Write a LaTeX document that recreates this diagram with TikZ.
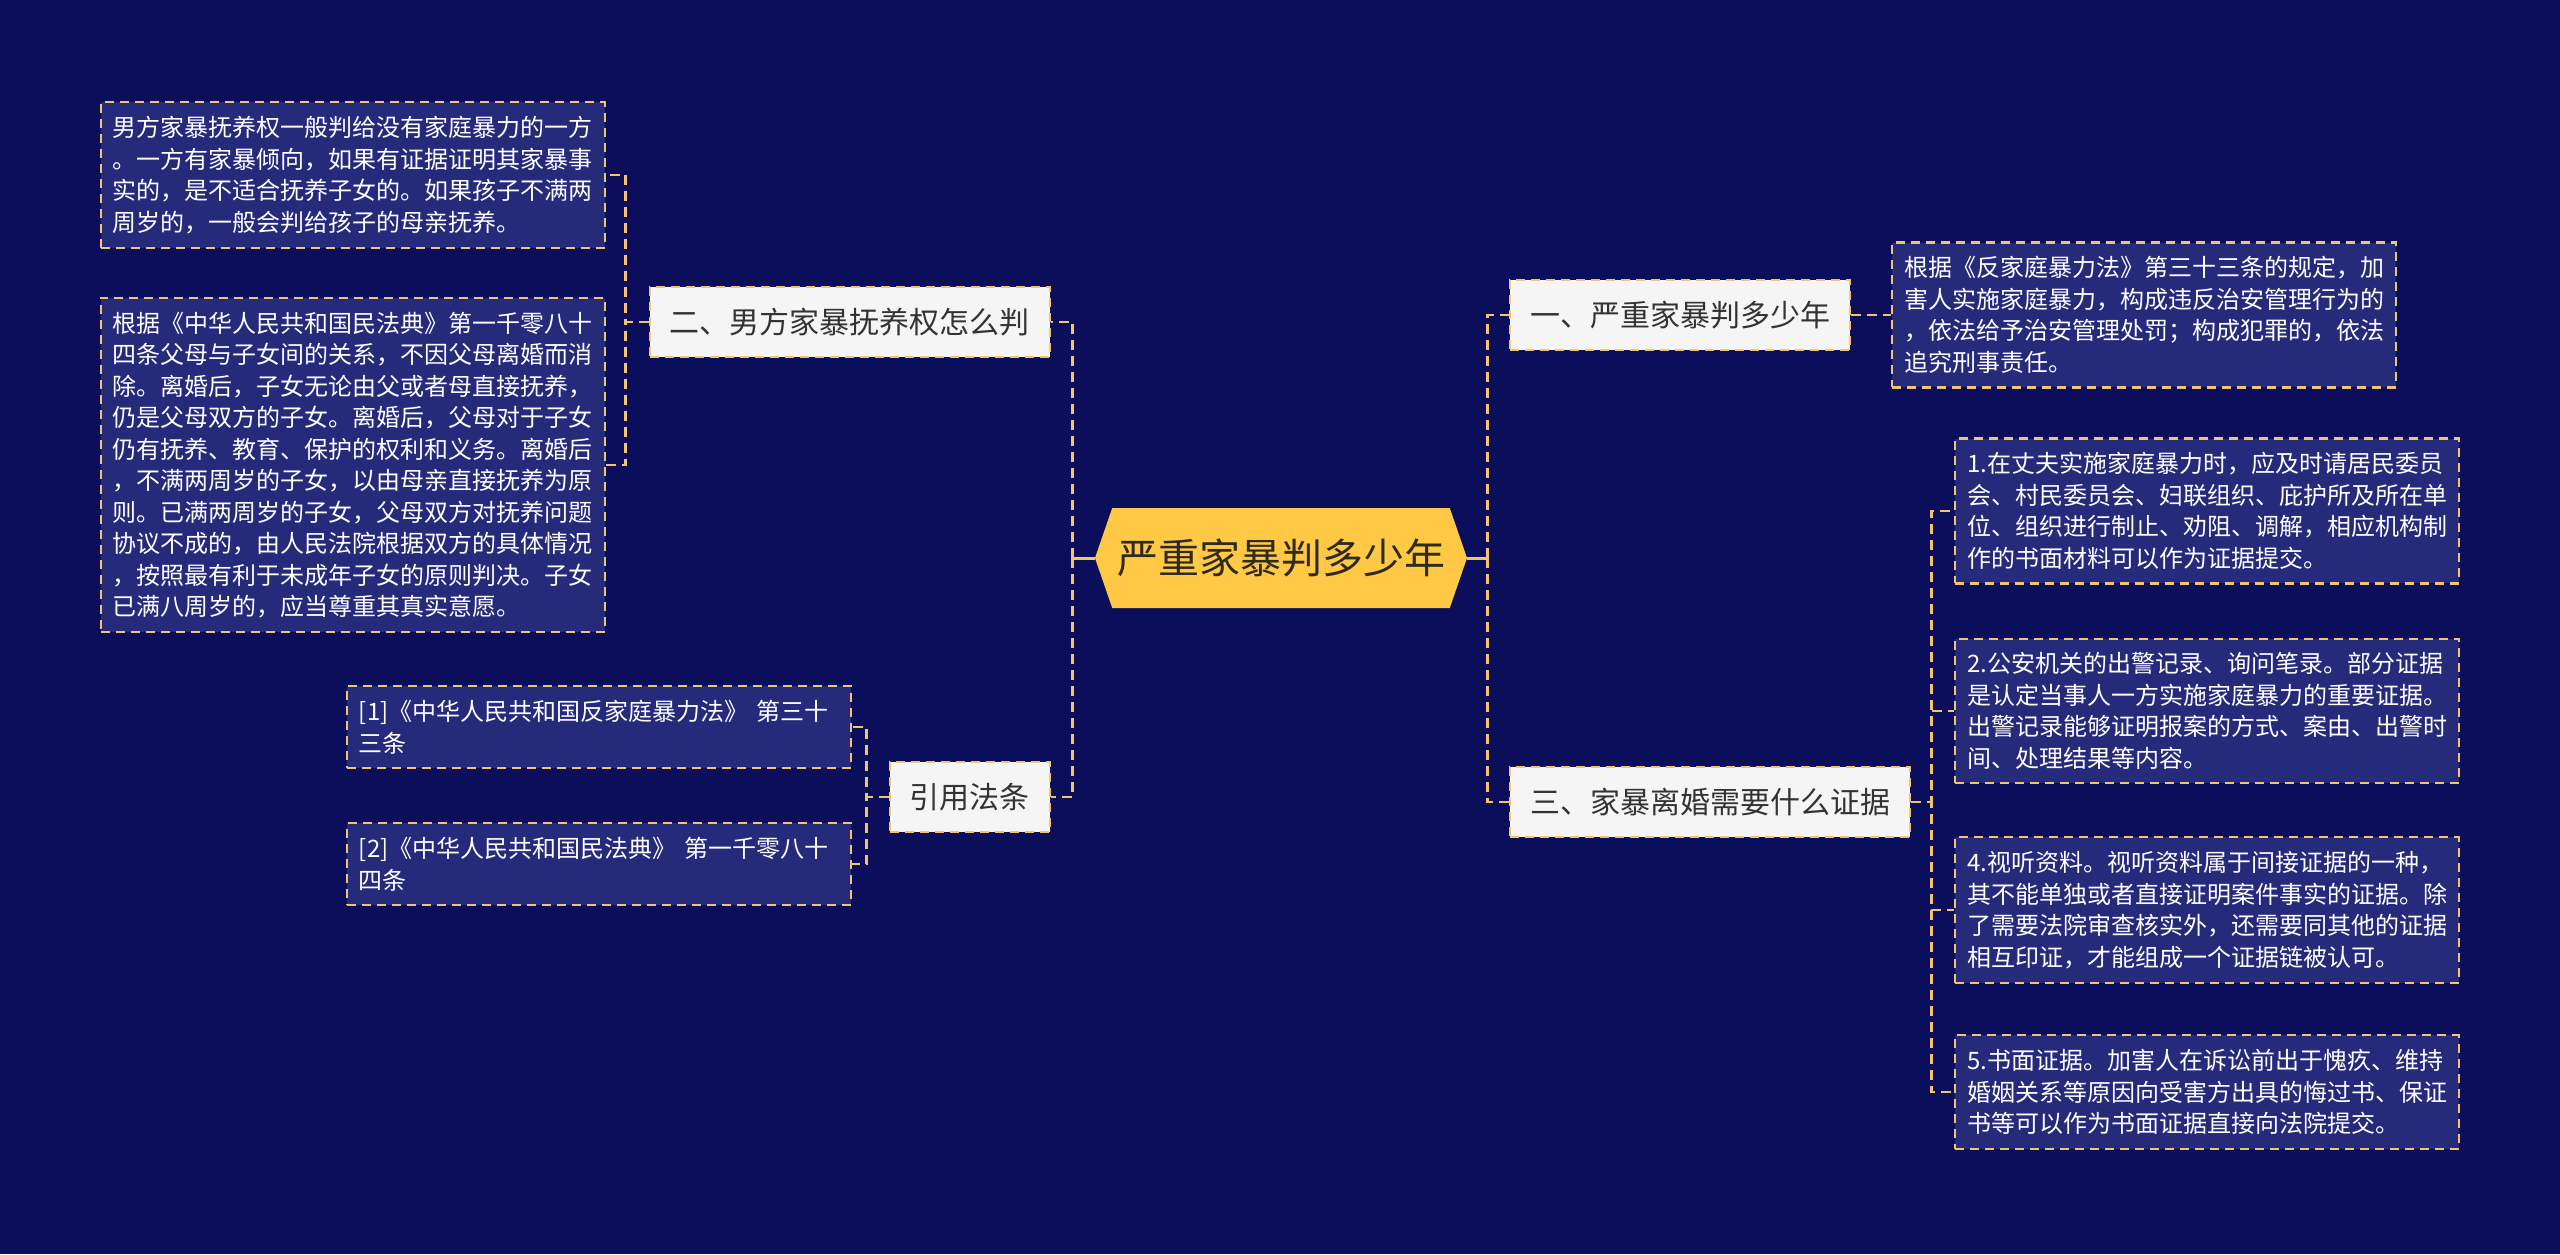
\documentclass[tikz,border=0pt]{standalone}
\usepackage{fontspec}
\setmainfont{Noto Sans CJK SC}
\usetikzlibrary{positioning,shapes.symbols}
\definecolor{bgnavy}{HTML}{0A0E5B}
\definecolor{leafblue}{HTML}{262A7A}
\definecolor{gold}{HTML}{F2C46E}
\definecolor{paper}{HTML}{F5F5F5}
\definecolor{ink}{HTML}{333333}
\definecolor{hexgold}{HTML}{FFC845}
\definecolor{hexink}{HTML}{2E2A1C}

\begin{document}
\begin{tikzpicture}[x=1pt,y=-1pt,
  hex/.style={shape=signal,signal to=west and east,signal pointer angle=142,
    fill=hexgold,draw=none,text=hexink,minimum width=372pt,minimum height=100pt,
    inner xsep=4pt,font=\fontsize{41}{48}\selectfont},
  topic/.style={draw=gold,line width=2.2pt,dash pattern=on 9pt off 6pt,fill=paper,
    text=ink,minimum height=70pt,inner xsep=20pt,font=\fontsize{30}{36}\selectfont},
  leaf/.style={draw=gold,line width=2.2pt,dash pattern=on 9pt off 6pt,fill=leafblue,
    text=white,text width=480pt,align=left,inner xsep=12pt,inner ysep=14pt,
    font=\fontsize{24}{31.5}\selectfont},
  link/.style={draw=gold,line width=2.8pt,dash pattern=on 10pt off 6pt},
  stub/.style={draw=gold,line width=3pt}]

  \fill[bgnavy] (0,0) rectangle (2560,1254);
  \useasboundingbox (0,0) rectangle (2560,1254);

  \node[hex] (root) at (1281,558) {严重家暴判多少年};

  % left half
  \node[topic,anchor=east] (custody) at (1051,322) {二、男方家暴抚养权怎么判};
  \node[topic,anchor=east] (laws) at (1051,797) {引用法条};
  \node[leaf,anchor=east] (leafA) at (606,175)
    {男方家暴抚养权一般判给没有家庭暴力的一方\\。一方有家暴倾向，如果有证据证明其家暴事\\实的，是不适合抚养子女的。如果孩子不满两\\周岁的，一般会判给孩子的母亲抚养。};
  \node[leaf,anchor=east] (leafB) at (606,465)
    {根据《中华人民共和国民法典》第一千零八十\\四条父母与子女间的关系，不因父母离婚而消\\除。离婚后，子女无论由父或者母直接抚养，\\仍是父母双方的子女。离婚后，父母对于子女\\仍有抚养、教育、保护的权利和义务。离婚后\\，不满两周岁的子女，以由母亲直接抚养为原\\则。已满两周岁的子女，父母双方对抚养问题\\协议不成的，由人民法院根据双方的具体情况\\，按照最有利于未成年子女的原则判决。子女\\已满八周岁的，应当尊重其真实意愿。};
  \node[leaf,anchor=east] (ref1) at (852,727)
    {[1]《中华人民共和国反家庭暴力法》 第三十\\三条};
  \node[leaf,anchor=east] (ref2) at (852,864)
    {[2]《中华人民共和国民法典》 第一千零八十\\四条};

  % right half
  \node[topic,anchor=west] (years) at (1509,315) {一、严重家暴判多少年};
  \node[topic,anchor=west] (proof) at (1509,802) {三、家暴离婚需要什么证据};
  \node[leaf,anchor=west] (rule) at (1891,315)
    {根据《反家庭暴力法》第三十三条的规定，加\\害人实施家庭暴力，构成违反治安管理行为的\\，依法给予治安管理处罚；构成犯罪的，依法\\追究刑事责任。};
  \node[leaf,anchor=west] (ev1) at (1954,511)
    {1.在丈夫实施家庭暴力时，应及时请居民委员\\会、村民委员会、妇联组织、庇护所及所在单\\位、组织进行制止、劝阻、调解，相应机构制\\作的书面材料可以作为证据提交。};
  \node[leaf,anchor=west] (ev2) at (1954,711)
    {2.公安机关的出警记录、询问笔录。部分证据\\是认定当事人一方实施家庭暴力的重要证据。\\出警记录能够证明报案的方式、案由、出警时\\间、处理结果等内容。};
  \node[leaf,anchor=west] (ev4) at (1954,910)
    {4.视听资料。视听资料属于间接证据的一种，\\其不能单独或者直接证明案件事实的证据。除\\了需要法院审查核实外，还需要同其他的证据\\相互印证，才能组成一个证据链被认可。};
  \node[leaf,anchor=west] (ev5) at (1954,1092)
    {5.书面证据。加害人在诉讼前出于愧疚、维持\\婚姻关系等原因向受害方出具的悔过书、保证\\书等可以作为书面证据直接向法院提交。};

  % connectors
  \coordinate[left=22pt of root.west] (ljoin);
  \coordinate[right=20pt of root.east] (rjoin);
  \draw[stub] (root.west) -- (ljoin);
  \draw[stub] (root.east) -- (rjoin);
  \draw[link] (ljoin) |- (custody.east);
  \draw[link] (ljoin) |- (laws.east);
  \draw[link] (rjoin) |- (years.west);
  \draw[link] (rjoin) |- (proof.west);
  \draw[link] (custody.west) -- ++(-23,0) |- (leafA.east);
  \draw[link] (custody.west) -- ++(-23,0) |- (leafB.east);
  \draw[link] (laws.west) -- ++(-22,0) |- (ref1.east);
  \draw[link] (laws.west) -- ++(-22,0) |- (ref2.east);
  \draw[link] (years.east) -- (rule.west);
  \draw[link] (proof.east) -- ++(20,0) |- (ev1.west);
  \draw[link] (proof.east) -- ++(20,0) |- (ev2.west);
  \draw[link] (proof.east) -- ++(20,0) |- (ev4.west);
  \draw[link] (proof.east) -- ++(20,0) |- (ev5.west);
\end{tikzpicture}
\end{document}
